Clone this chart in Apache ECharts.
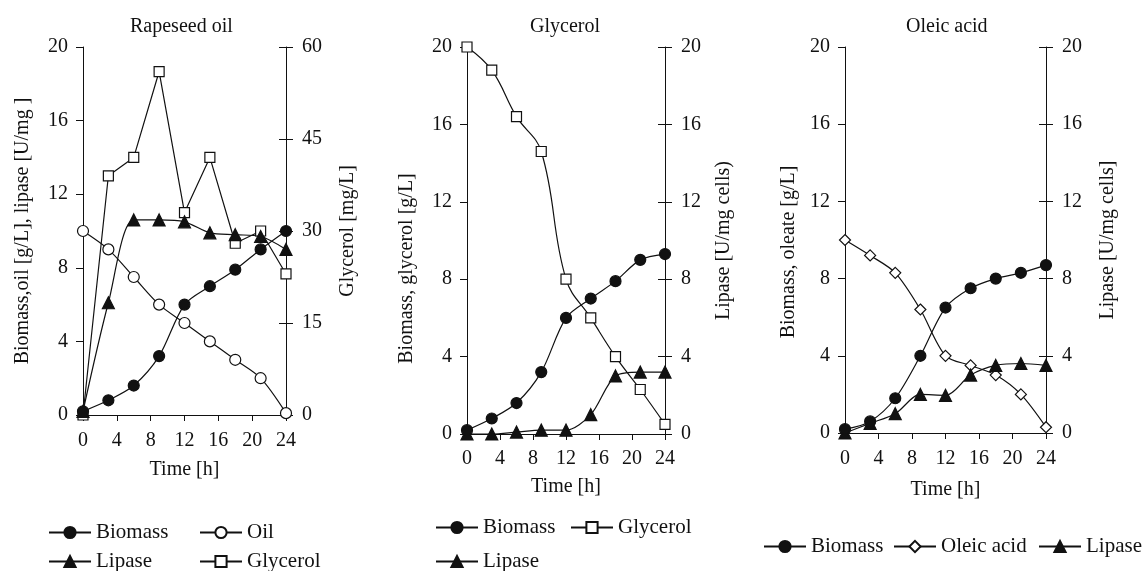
<!DOCTYPE html>
<html>
<head>
<meta charset="utf-8">
<script src="https://cdn.jsdelivr.net/npm/echarts@6/dist/echarts.min.js"></script>
<style>
  html, body { margin: 0; padding: 0; background: #fff; }
  #chart { width: 1143px; height: 571px; }
</style>
</head>
<body>
<div id="chart"></div>
<script>
// sampling times [h]
const hours = [0, 3, 6, 9, 12, 15, 18, 21, 24];
const xTicks = [0, 4, 8, 12, 16, 20, 24];

// Rapeseed oil panel
const rsBiomass = [0.2, 0.8, 1.6, 3.2, 6.0, 7.0, 7.9, 9.0, 10.0];
const rsOil = [10.0, 9.0, 7.5, 6.0, 5.0, 4.0, 3.0, 2.0, 0.1];
const rsLipase = [0.2, 6.1, 10.6, 10.6, 10.5, 9.9, 9.8, 9.7, 9.0];
const rsGlycerol = [0, 39, 42, 56, 33, 42, 28, 30, 23];   // mg/L, right axis

// Glycerol panel
const glBiomass = [0.2, 0.8, 1.6, 3.2, 6.0, 7.0, 7.9, 9.0, 9.3];
const glGlycerol = [20.0, 18.8, 16.4, 14.6, 8.0, 6.0, 4.0, 2.3, 0.5];
const glLipase = [0, 0, 0.1, 0.2, 0.2, 1.0, 3.0, 3.2, 3.2];  // right axis

// Oleic acid panel
const olBiomass = [0.2, 0.6, 1.8, 4.0, 6.5, 7.5, 8.0, 8.3, 8.7];
const olOleic = [10.0, 9.2, 8.3, 6.4, 4.0, 3.5, 3.0, 2.0, 0.3];
const olLipase = [0, 0.5, 1.0, 2.0, 1.95, 3.0, 3.5, 3.6, 3.5];  // right axis

const FONT = 'Liberation Serif';
const INK = '#111';

function pts(vals) {
  return hours.map((h, i) => [h, vals[i]]);
}

const markers = {
  Biomass: { symbol: 'circle', fill: INK, size: 11 },
  Oil: { symbol: 'circle', fill: '#fff', size: 11 },
  Lipase: { symbol: 'triangle', fill: INK, size: 12 },
  Glycerol: { symbol: 'rect', fill: '#fff', size: 10 },
  'Oleic acid': { symbol: 'diamond', fill: '#fff', size: 11 }
};

function line(name, vals, xi, yi, smooth) {
  const m = markers[name];
  return {
    name: name,
    type: 'line',
    data: pts(vals),
    xAxisIndex: xi,
    yAxisIndex: yi,
    smooth: smooth,
    symbol: m.symbol,
    symbolSize: m.size,
    showAllSymbol: true,
    lineStyle: { color: INK, width: 1.2 },
    itemStyle: { color: m.fill, borderColor: INK, borderWidth: 1.2 },
    emphasis: { disabled: true }
  };
}

const grids = [
  { left: 83, width: 203, top: 47, height: 368 },
  { left: 467, width: 198, top: 47, height: 387 },
  { left: 845, width: 201, top: 47, height: 386 }
];

function xAx(gi, gap, margin) {
  return {
    type: 'value', gridIndex: gi, min: 0, max: 24, interval: 4,
    name: 'Time [h]', nameLocation: 'middle', nameGap: gap,
    nameTextStyle: { fontFamily: FONT, fontSize: 20, color: INK },
    axisLine: { lineStyle: { color: INK, width: 1 } },
    axisTick: { show: true, length: 6, lineStyle: { color: INK } },
    axisLabel: { fontFamily: FONT, fontSize: 20, color: INK, margin: margin },
    splitLine: { show: false }
  };
}

function yAx(gi, pos, max, interval, name, gap, shift) {
  return {
    type: 'value', gridIndex: gi, position: pos, min: 0, max: max, interval: interval,
    name: name, nameLocation: 'middle', nameGap: gap,
    nameTextStyle: {
      fontFamily: FONT, fontSize: 20, color: INK,
      padding: shift ? [0, shift, 0, 0] : 0
    },
    axisLine: { show: true, lineStyle: { color: INK, width: 1 } },
    axisTick: { show: true, length: 7, lineStyle: { color: INK } },
    axisLabel: { fontFamily: FONT, fontSize: 20, color: INK, margin: pos === 'left' ? 15 : 16 },
    splitLine: { show: false }
  };
}

// inner half of the crossing ticks on the right-hand axes
function yTickIn(gi, max, interval) {
  return {
    type: 'value', gridIndex: gi, position: 'right', min: 0, max: max, interval: interval,
    axisLine: { show: false },
    axisTick: { show: true, inside: true, length: 7, lineStyle: { color: INK } },
    axisLabel: { show: false },
    splitLine: { show: false }
  };
}

function legendItem(name, left, cy) {
  return {
    data: [name], left: left, top: cy - 11, padding: 0,
    itemWidth: 42, itemHeight: 14, itemGap: 0,
    selectedMode: false,
    textStyle: { fontFamily: FONT, fontSize: 21, color: INK, padding: [0, 0, 0, 0] }
  };
}

const titleStyle = { fontFamily: FONT, fontSize: 20, fontWeight: 'normal', color: INK };

const option = {
  animation: false,
  backgroundColor: '#fff',
  title: [
    { text: 'Rapeseed oil', left: 125, top: 12, textStyle: titleStyle },
    { text: 'Glycerol', left: 525, top: 12, textStyle: titleStyle },
    { text: 'Oleic acid', left: 901, top: 12, textStyle: titleStyle }
  ],
  grid: grids,
  xAxis: [xAx(0, 45, 16), xAx(1, 43, 15), xAx(2, 47, 16)],
  yAxis: [
    yAx(0, 'left', 20, 4, 'Biomass,oil [g/L], lipase [U/mg ]', 50),
    yAx(0, 'right', 60, 15, 'Glycerol [mg/L]', 52),
    yTickIn(0, 60, 15),
    yAx(1, 'left', 20, 4, 'Biomass, glycerol [g/L]', 50, 56),
    yAx(1, 'right', 20, 4, 'Lipase [U/mg cells)', 49),
    yTickIn(1, 20, 4),
    yAx(2, 'left', 20, 4, 'Biomass, oleate [g/L]', 46, 24),
    yAx(2, 'right', 20, 4, 'Lipase [U/mg cells]', 52),
    yTickIn(2, 20, 4)
  ],
  legend: [
    legendItem('Biomass', 48, 533),
    legendItem('Oil', 199, 533),
    legendItem('Lipase', 48, 562),
    legendItem('Glycerol', 199, 562),
    legendItem('Biomass', 435, 528),
    legendItem('Glycerol', 570, 528),
    legendItem('Lipase', 435, 562),
    legendItem('Biomass', 763, 547),
    legendItem('Oleic acid', 893, 547),
    legendItem('Lipase', 1038, 547)
  ],
  series: [
    line('Glycerol', rsGlycerol, 0, 1, false),
    line('Oil', rsOil, 0, 0, 0.3),
    line('Lipase', rsLipase, 0, 0, 0.3),
    line('Biomass', rsBiomass, 0, 0, 0.3),

    line('Glycerol', glGlycerol, 1, 3, 0.4),
    line('Lipase', glLipase, 1, 4, 0.3),
    line('Biomass', glBiomass, 1, 3, 0.3),

    line('Oleic acid', olOleic, 2, 6, 0.3),
    line('Lipase', olLipase, 2, 7, 0.3),
    line('Biomass', olBiomass, 2, 6, 0.3)
  ]
};

const chart = echarts.init(document.getElementById('chart'), null, { renderer: 'canvas' });
chart.setOption(option);
</script>
</body>
</html>
